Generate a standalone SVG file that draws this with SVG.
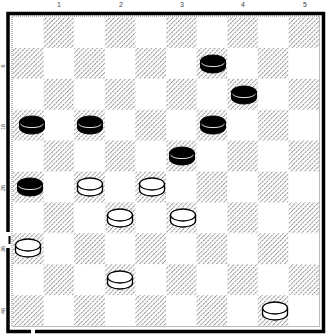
<svg xmlns="http://www.w3.org/2000/svg" xmlns:xlink="http://www.w3.org/1999/xlink" width="327" height="336" viewBox="0 0 327 336">
<style>
.lbl{font-family:"Liberation Sans",Arial,sans-serif;font-size:7px;fill:#444;text-anchor:middle}
.rl{font-size:5.5px}
.d{fill:url(#hatch)}
</style>
<defs>
<pattern id="hatch" patternUnits="userSpaceOnUse" width="3.2" height="3.2" patternTransform="rotate(45)">
<rect width="3.2" height="3.2" fill="#fff"/>
<line x1="0.5" y1="0" x2="0.5" y2="3.2" stroke="#8c8c8c" stroke-width="0.9" stroke-dasharray="1.6 0.6"/>
</pattern>
<g id="bp">
<path d="M-12.5,-3 V3 A12.5,6 0 0 0 12.5,3 V-3 Z" fill="#000" stroke="#000" stroke-width="1"/>
<ellipse cx="0" cy="-3" rx="12.5" ry="6" fill="#000" stroke="#000" stroke-width="1"/>
<path d="M-11.5,-1 A12,5 0 0 0 11.5,-1" fill="none" stroke="#fff" stroke-width="0.9"/>
</g>
<g id="wp">
<path d="M-12.5,-3 V3 A12.5,6 0 0 0 12.5,3 V-3 Z" fill="#fff" stroke="#000" stroke-width="1.3"/>
<ellipse cx="0" cy="-3" rx="12.5" ry="6" fill="#fff" stroke="#000" stroke-width="1.3"/>
</g>
</defs>
<rect width="327" height="336" fill="#fff"/>
<g id="labels">
<text class="lbl" x="59" y="7">1</text>
<text class="lbl" x="121" y="7">2</text>
<text class="lbl" x="182" y="7">3</text>
<text class="lbl" x="243" y="7">4</text>
<text class="lbl" x="305" y="7">5</text>
<text class="lbl rl" transform="translate(4.5,66) rotate(-90)">6</text>
<text class="lbl rl" transform="translate(4.5,127) rotate(-90)">16</text>
<text class="lbl rl" transform="translate(4.5,188) rotate(-90)">26</text>
<text class="lbl rl" transform="translate(4.5,249) rotate(-90)">36</text>
<text class="lbl rl" transform="translate(4.5,311) rotate(-90)">46</text>
</g>
<g id="board">
<rect class="d" x="43.6" y="17" width="30.6" height="30.9"/>
<rect class="d" x="104.8" y="17" width="30.6" height="30.9"/>
<rect class="d" x="166" y="17" width="30.6" height="30.9"/>
<rect class="d" x="227.2" y="17" width="30.6" height="30.9"/>
<rect class="d" x="288.4" y="17" width="30.6" height="30.9"/>
<rect class="d" x="13" y="47.9" width="30.6" height="30.9"/>
<rect class="d" x="74.2" y="47.9" width="30.6" height="30.9"/>
<rect class="d" x="135.4" y="47.9" width="30.6" height="30.9"/>
<rect class="d" x="196.6" y="47.9" width="30.6" height="30.9"/>
<rect class="d" x="257.8" y="47.9" width="30.6" height="30.9"/>
<rect class="d" x="43.6" y="78.8" width="30.6" height="30.9"/>
<rect class="d" x="104.8" y="78.8" width="30.6" height="30.9"/>
<rect class="d" x="166" y="78.8" width="30.6" height="30.9"/>
<rect class="d" x="227.2" y="78.8" width="30.6" height="30.9"/>
<rect class="d" x="288.4" y="78.8" width="30.6" height="30.9"/>
<rect class="d" x="13" y="109.7" width="30.6" height="30.9"/>
<rect class="d" x="74.2" y="109.7" width="30.6" height="30.9"/>
<rect class="d" x="135.4" y="109.7" width="30.6" height="30.9"/>
<rect class="d" x="196.6" y="109.7" width="30.6" height="30.9"/>
<rect class="d" x="257.8" y="109.7" width="30.6" height="30.9"/>
<rect class="d" x="43.6" y="140.6" width="30.6" height="30.9"/>
<rect class="d" x="104.8" y="140.6" width="30.6" height="30.9"/>
<rect class="d" x="166" y="140.6" width="30.6" height="30.9"/>
<rect class="d" x="227.2" y="140.6" width="30.6" height="30.9"/>
<rect class="d" x="288.4" y="140.6" width="30.6" height="30.9"/>
<rect class="d" x="13" y="171.5" width="30.6" height="30.9"/>
<rect class="d" x="74.2" y="171.5" width="30.6" height="30.9"/>
<rect class="d" x="135.4" y="171.5" width="30.6" height="30.9"/>
<rect class="d" x="196.6" y="171.5" width="30.6" height="30.9"/>
<rect class="d" x="257.8" y="171.5" width="30.6" height="30.9"/>
<rect class="d" x="43.6" y="202.4" width="30.6" height="30.9"/>
<rect class="d" x="104.8" y="202.4" width="30.6" height="30.9"/>
<rect class="d" x="166" y="202.4" width="30.6" height="30.9"/>
<rect class="d" x="227.2" y="202.4" width="30.6" height="30.9"/>
<rect class="d" x="288.4" y="202.4" width="30.6" height="30.9"/>
<rect class="d" x="13" y="233.3" width="30.6" height="30.9"/>
<rect class="d" x="74.2" y="233.3" width="30.6" height="30.9"/>
<rect class="d" x="135.4" y="233.3" width="30.6" height="30.9"/>
<rect class="d" x="196.6" y="233.3" width="30.6" height="30.9"/>
<rect class="d" x="257.8" y="233.3" width="30.6" height="30.9"/>
<rect class="d" x="43.6" y="264.2" width="30.6" height="30.9"/>
<rect class="d" x="104.8" y="264.2" width="30.6" height="30.9"/>
<rect class="d" x="166" y="264.2" width="30.6" height="30.9"/>
<rect class="d" x="227.2" y="264.2" width="30.6" height="30.9"/>
<rect class="d" x="288.4" y="264.2" width="30.6" height="30.9"/>
<rect class="d" x="13" y="295.1" width="30.6" height="30.9"/>
<rect class="d" x="74.2" y="295.1" width="30.6" height="30.9"/>
<rect class="d" x="135.4" y="295.1" width="30.6" height="30.9"/>
<rect class="d" x="196.6" y="295.1" width="30.6" height="30.9"/>
<rect class="d" x="257.8" y="295.1" width="30.6" height="30.9"/>
<rect x="12" y="16" width="307.5" height="310.5" fill="none" stroke="#555" stroke-width="0.8" stroke-dasharray="1 1"/>
<path d="M8,232 V13.5 H323.5 V331.5 H35 M31,331.5 H8 V248" fill="none" stroke="#000" stroke-width="3.5"/>
<path d="M9.5,236 V244" fill="none" stroke="#000" stroke-width="2"/>
</g>
<g id="b1"><use xlink:href="#bp" x="213" y="64"/></g>
<g id="b2"><use xlink:href="#bp" x="244" y="95"/></g>
<g id="b3"><use xlink:href="#bp" x="32" y="125"/></g>
<g id="b4"><use xlink:href="#bp" x="90" y="125"/></g>
<g id="b5"><use xlink:href="#bp" x="213" y="125"/></g>
<g id="b6"><use xlink:href="#bp" x="182" y="156"/></g>
<g id="b7"><use xlink:href="#bp" x="30" y="187"/></g>
<g id="w1"><use xlink:href="#wp" x="90" y="187"/></g>
<g id="w2"><use xlink:href="#wp" x="152" y="187"/></g>
<g id="w3"><use xlink:href="#wp" x="120" y="218"/></g>
<g id="w4"><use xlink:href="#wp" x="183" y="218"/></g>
<g id="w5"><use xlink:href="#wp" x="28" y="248"/></g>
<g id="w6"><use xlink:href="#wp" x="120" y="280"/></g>
<g id="w7"><use xlink:href="#wp" x="275" y="311"/></g>
</svg>
